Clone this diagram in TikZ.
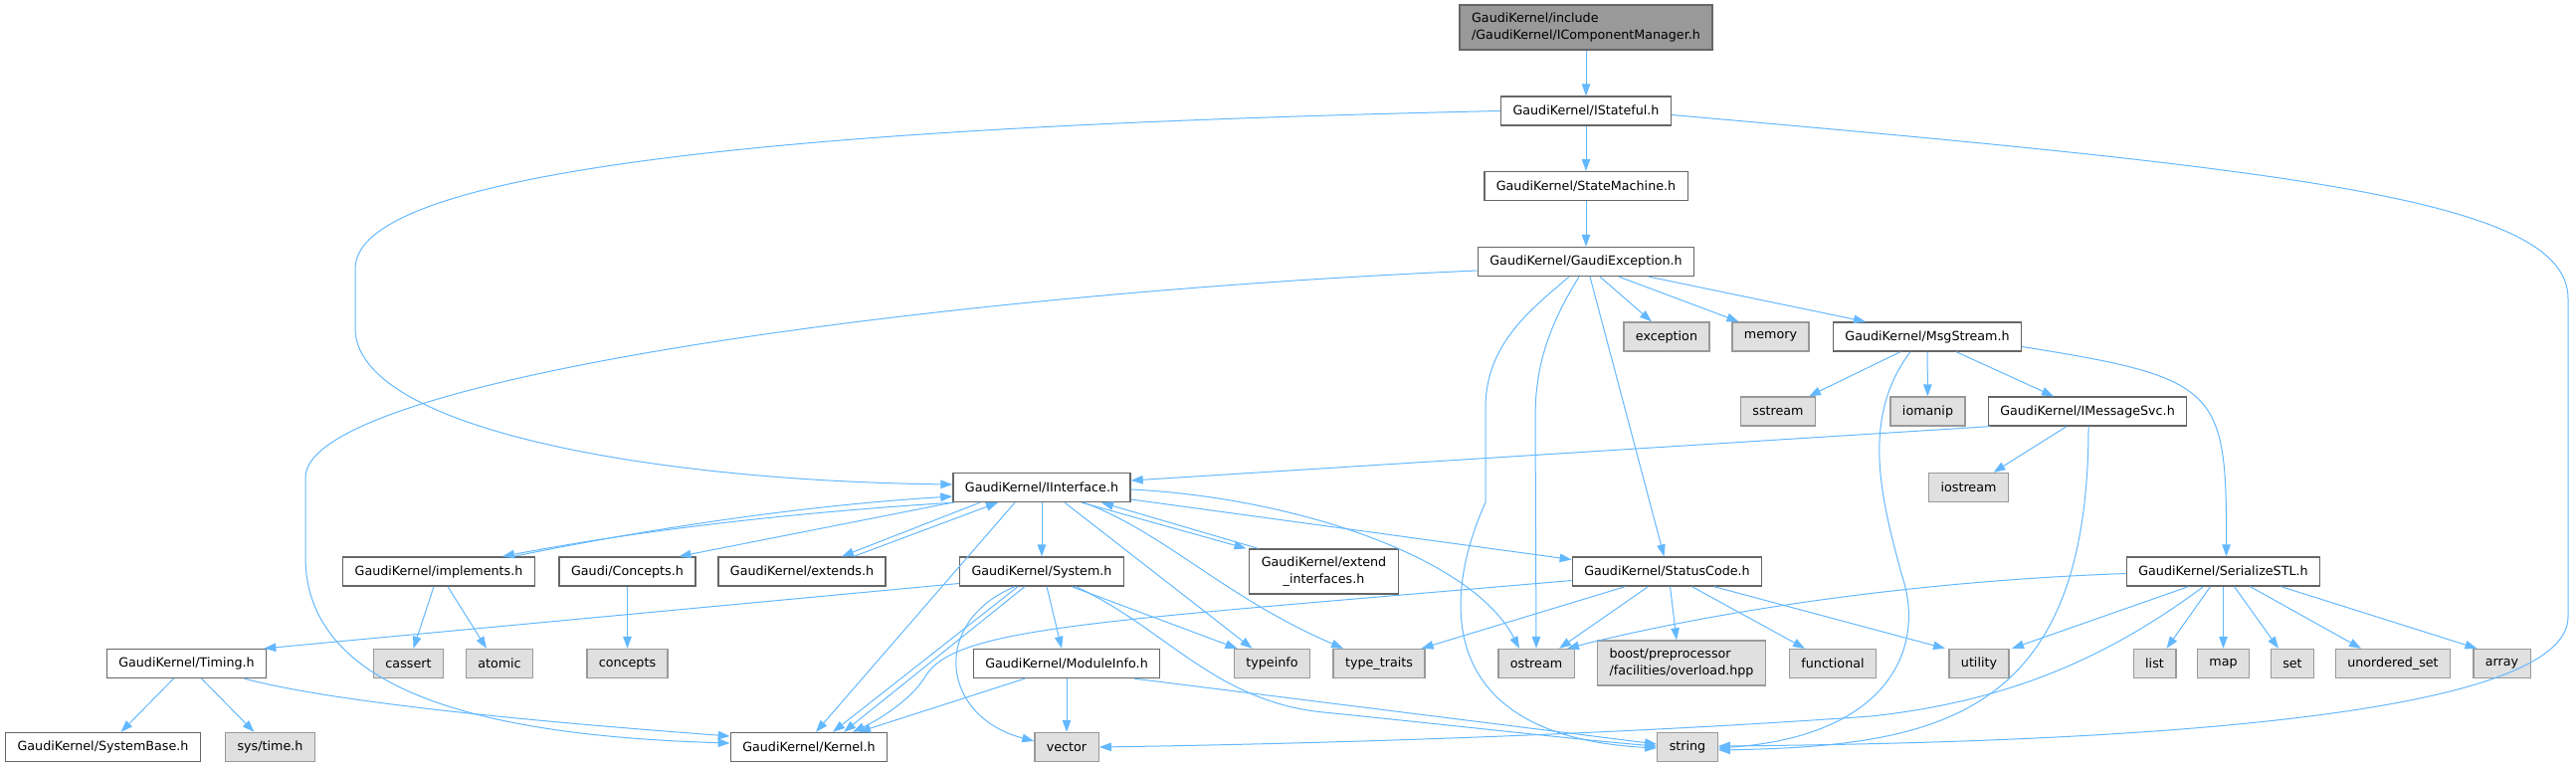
\documentclass[tikz,border=0pt]{standalone}
\usepackage{fontspec}
\setmainfont{DejaVu Sans}
\usetikzlibrary{arrows.meta}
\definecolor{edgeblue}{HTML}{63B8FF}
\definecolor{nodeline}{HTML}{666666}
\definecolor{sysline}{HTML}{999999}
\definecolor{sysfill}{HTML}{E0E0E0}
\definecolor{mainfill}{HTML}{999999}

\begin{document}
\begin{tikzpicture}[
    x=1pt, y=-1pt,
    font=\fontsize{12.7}{17}\selectfont,
    hdr/.style={
        draw=nodeline,
        line width=1.3pt,
        fill=mainfill,
        inner xsep=12pt,
        minimum height=45pt,
        align=left
    },
    inc/.style={
        draw=nodeline,
        line width=1.3pt,
        fill=white,
        inner xsep=12pt,
        minimum height=29pt
    },
    sys/.style={
        draw=sysline,
        line width=1.3pt,
        fill=sysfill,
        inner xsep=12pt,
        minimum height=29pt
    },
    two/.style={minimum height=45pt},
    arr/.style={-{Triangle[length=12pt,width=8.5pt]}, draw=edgeblue, line width=1pt}
]
\useasboundingbox (0,0) rectangle (2589,770);

\node[hdr] (icm) at (1594,27.5) {GaudiKernel/include\\/GaudiKernel/IComponentManager.h};
\node[inc] (stateful) at (1594,111.5) {GaudiKernel/IStateful.h};
\node[inc] (statemachine) at (1594,187) {GaudiKernel/StateMachine.h};
\node[inc] (gexc) at (1594,263) {GaudiKernel/GaudiException.h};
\node[sys] (exception) at (1675,338.5) {exception};
\node[sys] (memory) at (1779.5,338.5) {memory};
\node[inc] (msgstream) at (1937,338.5) {GaudiKernel/MsgStream.h};
\node[sys] (sstream) at (1787,413.5) {sstream};
\node[sys] (iomanip) at (1937.5,413.5) {iomanip};
\node[inc] (imsgsvc) at (2098,413.5) {GaudiKernel/IMessageSvc.h};
\node[sys] (iostream) at (1978.5,490) {iostream};
\node[inc] (iinterface) at (1047,490) {GaudiKernel/IInterface.h};
\node[inc] (implements) at (441,574.5) {GaudiKernel/implements.h};
\node[inc] (concepthdr) at (630.5,574.5) {Gaudi/Concepts.h};
\node[inc] (extends) at (806,574.5) {GaudiKernel/extends.h};
\node[inc] (system) at (1047,574.5) {GaudiKernel/System.h};
\node[inc,two,align=center] (extifaces) at (1330.5,574.5) {GaudiKernel/extend\\\_interfaces.h};
\node[inc] (statuscode) at (1675.5,574.5) {GaudiKernel/StatusCode.h};
\node[inc] (serialize) at (2234.5,574.5) {GaudiKernel/SerializeSTL.h};
\node[inc] (timing) at (187.5,667) {GaudiKernel/Timing.h};
\node[sys] (cassert) at (410.5,667) {cassert};
\node[sys] (atomic) at (502,667) {atomic};
\node[sys] (concepts) at (630.5,667) {concepts};
\node[inc] (moduleinfo) at (1072,667) {GaudiKernel/ModuleInfo.h};
\node[sys] (typeinfo) at (1278.5,667) {typeinfo};
\node[sys] (typetraits) at (1386,667) {type\_traits};
\node[sys] (ostream) at (1544,667) {ostream};
\node[sys,two,align=left] (boost) at (1690,666.5) {boost/preprocessor\\/facilities/overload.hpp};
\node[sys] (functional) at (1842,667) {functional};
\node[sys] (utility) at (1989,667) {utility};
\node[sys] (list) at (2165.5,667) {list};
\node[sys] (map) at (2234.5,667) {map};
\node[sys] (set) at (2304,667) {set};
\node[sys] (unorderedset) at (2405,667) {unordered\_set};
\node[sys] (array) at (2514.5,667) {array};
\node[inc] (systembase) at (103.5,751) {GaudiKernel/SystemBase.h};
\node[sys] (systime) at (271.5,751) {sys/time.h};
\node[inc] (kernel) at (813,751) {GaudiKernel/Kernel.h};
\node[sys] (vector) at (1072,751) {vector};
\node[sys] (string) at (1696,751) {string};

% top chain
\draw[arr] (icm) -- (stateful);
\draw[arr] (stateful) -- (statemachine);
\draw[arr] (statemachine) -- (gexc);
\draw[arr] (stateful.west) .. controls (900,125) and (357,160) .. (357,270) -- (357,330)
    .. controls (357,430) and (650,483) .. ([yshift=3pt]iinterface.west);
\draw[arr] ([yshift=-4pt]stateful.east) .. controls (2300,170) and (2581,200) .. (2581,300) -- (2581,620)
    .. controls (2581,700) and (2300,745) .. ([yshift=1pt]string.east);

% GaudiException.h
\draw[arr] ([yshift=-9pt]gexc.west) .. controls (950,295) and (307,380) .. (307,480) -- (307,560)
    .. controls (307,700) and (500,740) .. ([yshift=4pt]kernel.west);
\draw[arr] ([xshift=14pt]gexc.south) -- ([xshift=-15pt]exception.north);
\draw[arr] ([xshift=33pt]gexc.south) -- ([xshift=-32pt]memory.north);
\draw[arr] ([xshift=63pt]gexc.south) -- ([xshift=-62pt]msgstream.north);
\draw[arr] ([xshift=-17pt]gexc.south) .. controls (1540,310) and (1493,345) .. (1493,410) -- (1493,505)
    .. controls (1450,600) and (1440,740) .. ([yshift=-1pt]string.west);
\draw[arr] ([xshift=-7pt]gexc.south) .. controls (1555,330) and (1543,370) .. (1543,420) -- (ostream.north);
\draw[arr] ([xshift=4pt]gexc.south) -- ([xshift=-3pt]statuscode.north);

% MsgStream.h and IMessageSvc.h
\draw[arr] ([xshift=-27pt]msgstream.south) -- ([xshift=31pt]sstream.north);
\draw[arr] (msgstream) -- (iomanip);
\draw[arr] ([xshift=29pt]msgstream.south) -- ([xshift=-34pt]imsgsvc.north);
\draw[arr] ([xshift=-17pt]msgstream.south) .. controls (1870,420) and (1890,500) .. (1912,580)
    .. controls (1935,650) and (1900,740) .. ([yshift=-1pt]string.east);
\draw[arr] ([yshift=-10pt]msgstream.east) .. controls (2230,380) and (2238,390) .. ([xshift=3pt]serialize.north);
\draw[arr] ([xshift=-98pt]imsgsvc.south) -- ([yshift=7pt]iinterface.east);
\draw[arr] ([xshift=-21pt]imsgsvc.south) -- ([xshift=25pt]iostream.north);
\draw[arr] ([xshift=1pt]imsgsvc.south) .. controls (2099,720) and (1950,750) .. ([yshift=-3pt]string.east);

% IInterface.h
\draw[arr] ([xshift=2pt]iinterface.south west) .. controls (800,515) and (650,532) .. ([xshift=64pt]implements.north);
\draw[arr] ([xshift=75pt]implements.north) .. controls (660,530) and (810,508) .. ([yshift=-9pt]iinterface.west);
\draw[arr] (iinterface.south west) -- ([xshift=52pt]concepthdr.north);
\draw[arr] ([xshift=-62pt]iinterface.south) -- ([xshift=40pt]extends.north);
\draw[arr] ([xshift=52pt]extends.north) -- ([xshift=-44pt]iinterface.south);
\draw[arr] (iinterface) -- (system);
\draw[arr] ([xshift=40pt]iinterface.south) -- ([xshift=-78pt]extifaces.north);
\draw[arr] ([xshift=-66pt]extifaces.north) -- ([xshift=60pt]iinterface.south);
\draw[arr] ([yshift=-12pt]iinterface.east) -- ([yshift=12pt]statuscode.west);
\draw[arr] ([yshift=-2pt]iinterface.east) .. controls (1300,500) and (1480,560) .. ([xshift=-17pt]ostream.north);
\draw[arr] ([xshift=-27pt]iinterface.south) -- ([xshift=7pt]kernel.north);
\draw[arr] ([xshift=23pt]iinterface.south) -- ([xshift=-20pt]typeinfo.north);
\draw[arr] ([xshift=42pt]iinterface.south) .. controls (1170,535) and (1230,600) .. ([xshift=-36pt]typetraits.north);

% implements.h, Concepts.h
\draw[arr] ([xshift=-5pt]implements.south) -- ([xshift=5pt]cassert.north);
\draw[arr] ([xshift=9pt]implements.south) -- ([xshift=-13pt]atomic.north);
\draw[arr] (concepthdr) -- (concepts);

% System.h and ModuleInfo.h
\draw[arr] ([yshift=-12pt]system.west) -- ([xshift=-3pt]timing.north east);
\draw[arr] ([xshift=-24pt]system.south) -- ([xshift=24pt]kernel.north);
\draw[arr] ([xshift=-17pt]system.south) -- ([xshift=35pt]kernel.north);
\draw[arr] ([xshift=5pt]system.south) -- ([xshift=-5pt]moduleinfo.north);
\draw[arr] ([xshift=30pt]system.south) -- ([xshift=-35pt]typeinfo.north);
\draw[arr] ([xshift=34pt]system.south) .. controls (1170,630) and (1220,705) .. (1330,716)
    .. controls (1450,728) and (1600,745) .. ([yshift=1pt]string.west);
\draw[arr] ([xshift=-27pt]system.south) .. controls (935,625) and (945,720) .. ([yshift=6pt]vector.west);
\draw[arr] ([xshift=-42pt]moduleinfo.south) -- ([xshift=50pt]kernel.north);
\draw[arr] (moduleinfo) -- (vector);
\draw[arr] ([xshift=68pt]moduleinfo.south) -- ([yshift=3pt]string.west);

% Timing.h
\draw[arr] ([xshift=-13pt]timing.south) -- ([xshift=18pt]systembase.north);
\draw[arr] ([xshift=15pt]timing.south) -- ([xshift=-16pt]systime.north);
\draw[arr] ([xshift=58pt]timing.south) .. controls (350,710) and (600,730) .. ([yshift=11pt]kernel.west);

% StatusCode.h
\draw[arr] ([yshift=-9pt]statuscode.west) .. controls (1100,625) and (960,630) .. (930,680)
    .. controls (915,705) and (880,725) .. ([xshift=44pt]kernel.north);
\draw[arr] ([xshift=-42pt]statuscode.south) -- ([xshift=-4pt]typetraits.north east);
\draw[arr] ([xshift=-19pt]statuscode.south) -- ([xshift=23pt]ostream.north);
\draw[arr] ([xshift=3pt]statuscode.south) -- ([xshift=-5pt]boost.north);
\draw[arr] ([xshift=25pt]statuscode.south) -- ([xshift=-28pt]functional.north);
\draw[arr] ([xshift=47pt]statuscode.south) -- ([xshift=-34pt]utility.north);

% SerializeSTL.h
\draw[arr] ([yshift=-2pt]serialize.west) .. controls (1900,585) and (1700,620) .. ([xshift=31pt]ostream.north);
\draw[arr] ([xshift=-35pt]serialize.south) -- ([xshift=33pt]utility.north);
\draw[arr] ([xshift=-13pt]serialize.south) -- ([xshift=12pt]list.north);
\draw[arr] (serialize) -- (map);
\draw[arr] ([xshift=11pt]serialize.south) -- ([xshift=-14pt]set.north);
\draw[arr] ([xshift=27pt]serialize.south) -- ([xshift=-32pt]unorderedset.north);
\draw[arr] ([xshift=58pt]serialize.south) -- ([xshift=-25pt]array.north);
\draw[arr] ([xshift=-20pt]serialize.south) .. controls (2120,660) and (2020,705) .. (1880,720)
    .. controls (1600,740) and (1300,748) .. (vector.east);

\end{tikzpicture}
\end{document}
